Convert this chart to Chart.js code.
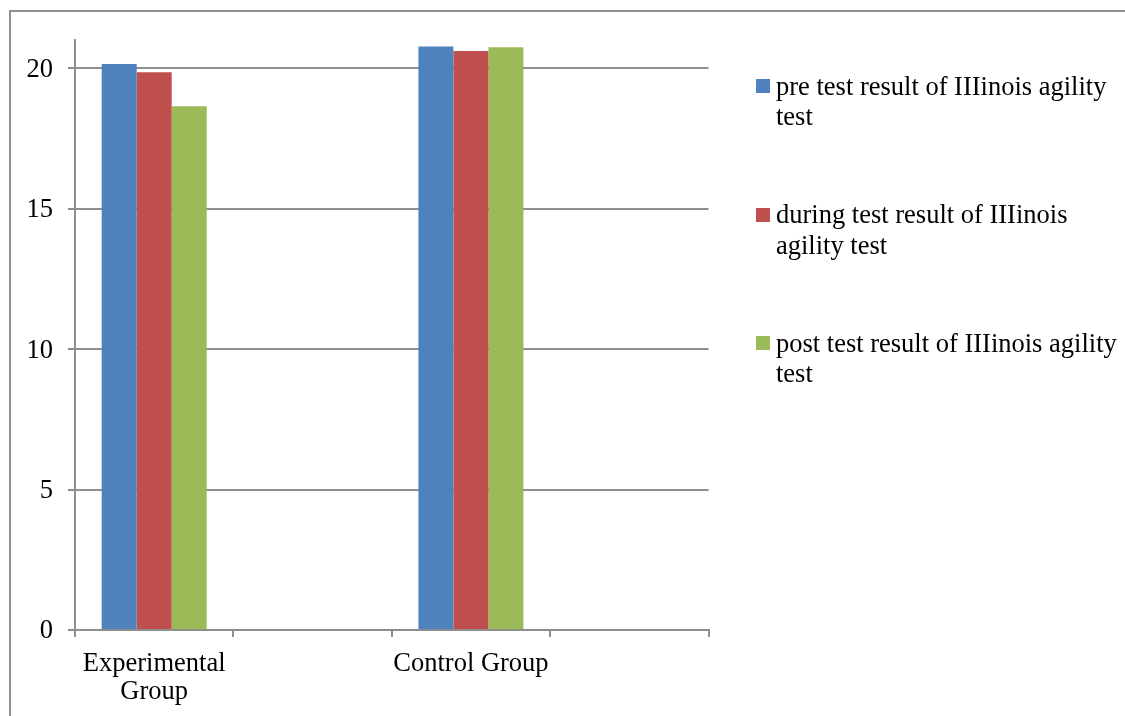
<!DOCTYPE html>
<html>
<head>
<meta charset="utf-8">
<script src="https://cdn.jsdelivr.net/npm/chart.js@4/dist/chart.umd.min.js"></script>
<style>
  html, body { margin: 0; padding: 0; background: #fff; }
  #wrap { position: relative; width: 1125px; height: 716px; overflow: hidden; }
  #frame { position: absolute; left: 9px; top: 10px; right: -10px; bottom: -10px;
           border-left: 2px solid #8e8e8e; border-top: 2px solid #8e8e8e; }
  canvas { position: absolute; left: 0; top: 0; }
  #legend { position: absolute; left: 756px; top: 0; width: 369px; height: 716px;
            font-family: 'Liberation Serif', 'Times New Roman', serif; font-size: 26.5px;
            line-height: 30.5px; color: #000; }
  .item { position: absolute; left: 0; width: 372px; }
  .box { position: absolute; left: 0; width: 14px; height: 14px; }
  .txt { position: absolute; left: 20px; top: 0; width: 350px; }
</style>
</head>
<body>
<div id="wrap">
  <div id="frame"></div>
  <canvas id="c" width="1125" height="716"></canvas>
  <div id="legend"></div>
</div>
<script>
// Category slots along the x axis (two groups, each followed by an empty slot)
const categories = [['Experimental', 'Group'], '', 'Control Group', ''];

// Illinois agility test results (seconds)
const preTest    = [20.15, null, 20.77, null];
const duringTest = [19.85, null, 20.61, null];
const postTest   = [18.64, null, 20.74, null];

const seriesNames = [
  'pre test result of IIIinois agility test',
  'during test result of IIIinois agility test',
  'post test result of IIIinois agility test'
];
const seriesColors = ['#4F81BD', '#C0504D', '#9BBB59'];

const yTicks = [0, 5, 10, 15, 20];
const yMax = 21;

const axisGray = '#8e8e8e';
const font = { family: "'Liberation Serif', 'Times New Roman', serif", size: 26.5, lineHeight: 1.07 };

const datasets = [preTest, duringTest, postTest].map((data, i) => ({
  label: seriesNames[i],
  data: data,
  backgroundColor: seriesColors[i],
  borderWidth: 0,
  categoryPercentage: 0.663,
  barPercentage: 1.0
}));

new Chart(document.getElementById('c'), {
  type: 'bar',
  data: { labels: categories, datasets: datasets },
  options: {
    responsive: false,
    animation: false,
    devicePixelRatio: 1,
    layout: { padding: { left: 0, right: 416.5, top: 40, bottom: 0 } },
    plugins: { legend: { display: false }, tooltip: { enabled: false } },
    scales: {
      x: {
        offset: true,
        grid: { offset: true, drawOnChartArea: false, tickLength: 7, color: axisGray, lineWidth: 2 },
        border: { color: axisGray, width: 2 },
        ticks: { color: '#000', font: font, padding: 13, maxRotation: 0, autoSkip: false },
        afterFit: s => { s.height = 86; }
      },
      y: {
        min: 0,
        max: yMax,
        afterBuildTicks: s => { s.ticks = yTicks.map(v => ({ value: v })); },
        grid: { color: axisGray, lineWidth: 2, tickLength: 7 },
        border: { color: axisGray, width: 2 },
        ticks: { color: '#000', font: font, padding: 15, labelOffset: 1.5 },
        afterFit: s => { s.width = 75; }
      }
    }
  }
});

// Legend on the right, built from the same series names and colours
const legend = document.getElementById('legend');
seriesNames.forEach((name, i) => {
  const item = document.createElement('div');
  item.className = 'item';
  item.style.top = (70.5 + i * 128.5) + 'px';
  const box = document.createElement('div');
  box.className = 'box';
  box.style.top = '8.5px';
  box.style.background = seriesColors[i];
  const txt = document.createElement('div');
  txt.className = 'txt';
  txt.textContent = name;
  item.appendChild(box);
  item.appendChild(txt);
  legend.appendChild(item);
});
</script>
</body>
</html>
